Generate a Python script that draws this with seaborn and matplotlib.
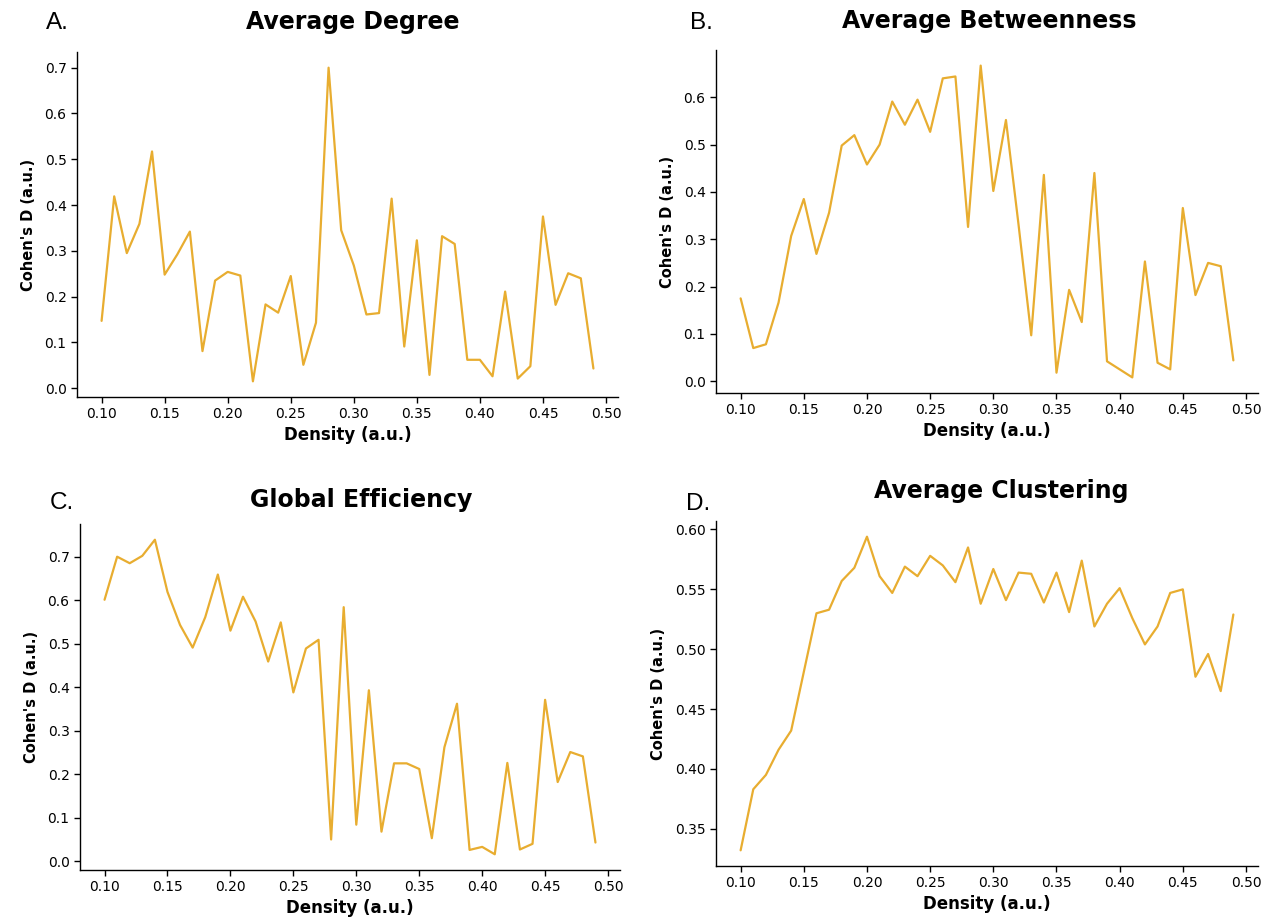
import matplotlib
matplotlib.use("Agg")
import matplotlib.pyplot as plt
import seaborn as sns
import numpy as np
import pandas as pd

density = [round(0.10 + 0.01 * i, 2) for i in range(40)]

avg_degree = [0.147, 0.419, 0.295, 0.359, 0.517, 0.248, 0.292, 0.342, 0.081, 0.235,
              0.254, 0.246, 0.015, 0.183, 0.165, 0.245, 0.051, 0.143, 0.700, 0.345,
              0.268, 0.161, 0.164, 0.414, 0.091, 0.323, 0.029, 0.332, 0.315, 0.062,
              0.062, 0.026, 0.211, 0.021, 0.048, 0.375, 0.182, 0.251, 0.240, 0.043]

avg_betweenness = [0.175, 0.070, 0.078, 0.166, 0.307, 0.385, 0.269, 0.356, 0.498, 0.520,
                   0.458, 0.500, 0.591, 0.542, 0.595, 0.527, 0.640, 0.644, 0.326, 0.667,
                   0.402, 0.552, 0.330, 0.097, 0.436, 0.018, 0.193, 0.125, 0.440, 0.042,
                   0.025, 0.008, 0.253, 0.039, 0.025, 0.366, 0.182, 0.250, 0.243, 0.044]

global_eff = [0.601, 0.700, 0.685, 0.702, 0.739, 0.619, 0.543, 0.491, 0.561, 0.659,
              0.530, 0.608, 0.551, 0.459, 0.549, 0.388, 0.489, 0.509, 0.050, 0.584,
              0.084, 0.393, 0.068, 0.225, 0.225, 0.212, 0.053, 0.262, 0.362, 0.026,
              0.033, 0.016, 0.226, 0.027, 0.040, 0.371, 0.182, 0.251, 0.241, 0.043]

avg_clustering = [0.332, 0.383, 0.395, 0.416, 0.432, 0.481, 0.530, 0.533, 0.557, 0.568,
                  0.594, 0.561, 0.547, 0.569, 0.561, 0.578, 0.570, 0.556, 0.585, 0.538,
                  0.567, 0.541, 0.564, 0.563, 0.539, 0.564, 0.531, 0.574, 0.519, 0.538,
                  0.551, 0.526, 0.504, 0.519, 0.547, 0.550, 0.477, 0.496, 0.465, 0.529]

titles = ["Average Degree", "Average Betweenness", "Global Efficiency", "Average Clustering"]
letters = ["A.", "B.", "C.", "D."]
series = [avg_degree, avg_betweenness, global_eff, avg_clustering]

line_color = "#E8AD30"

sns.set_style("ticks")
plt.rcParams["font.family"] = ["DejaVu Sans"]
plt.rcParams["text.color"] = "black"
plt.rcParams["axes.labelcolor"] = "black"
plt.rcParams["axes.edgecolor"] = "black"
plt.rcParams["axes.linewidth"] = 1.0
plt.rcParams["xtick.major.width"] = 1.0
plt.rcParams["ytick.major.width"] = 1.0
plt.rcParams["xtick.major.size"] = 4
plt.rcParams["ytick.major.size"] = 4

W, H = 1265, 921
fig = plt.figure(figsize=(W / 100, H / 100), dpi=100)

# axes boxes in pixels: left, right, top, bottom
boxes = [(77, 618, 52, 397), (716, 1258, 50, 393), (80, 620, 524, 870), (716, 1258, 521, 866)]
title_x = [0.51, 0.505, 0.52, 0.526]
title_pad = [16.5, 15.5, 12, 16.5]
letter_pos = [(46, 29), (690, 29), (50, 509), (686, 510)]
yfmt = ["%.1f", "%.1f", "%.1f", "%.2f"]

for i in range(4):
    x0, x1, yt, yb = boxes[i]
    ax = fig.add_axes([x0 / W, 1 - yb / H, (x1 - x0) / W, (yb - yt) / H])
    df = pd.DataFrame({"density": density, "d": series[i]})
    sns.lineplot(data=df, x="density", y="d", ax=ax, color=line_color, linewidth=1.6)
    sns.despine(ax=ax)
    ax.set_xticks(np.arange(0.10, 0.501, 0.05))
    ax.xaxis.set_major_formatter(matplotlib.ticker.FormatStrFormatter("%.2f"))
    ax.yaxis.set_major_formatter(matplotlib.ticker.FormatStrFormatter(yfmt[i]))
    ax.tick_params(labelsize=10, colors="black")
    ax.set_xlabel("Density (a.u.)", fontsize=12, fontweight="bold", labelpad=3)
    ax.set_ylabel("Cohen's D (a.u.)", fontsize=10.5, fontweight="bold", labelpad=6)
    ax.set_title(titles[i], fontsize=17, fontweight="bold", pad=title_pad[i], x=title_x[i],
                 color="black")
    lx, ly = letter_pos[i]
    fig.text(lx / W, 1 - ly / H, letters[i], fontsize=17.5, family="Liberation Sans",
             va="baseline", ha="left", color="black")

fig.savefig("out.png", dpi=100)
